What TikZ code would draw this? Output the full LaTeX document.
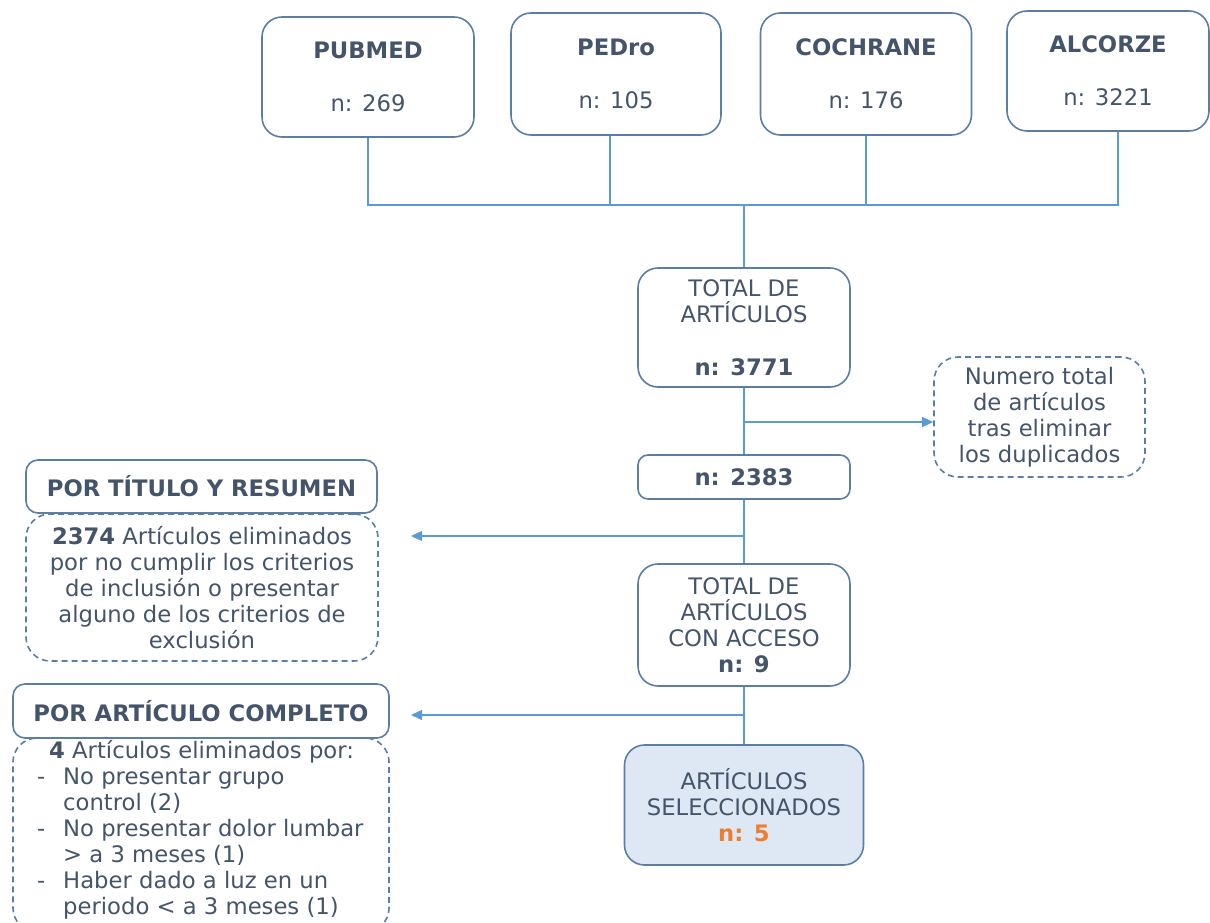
\documentclass[tikz,border=0pt]{standalone}
\usepackage{fontspec}
\setmainfont{DejaVu Sans}
\usetikzlibrary{arrows.meta}
\definecolor{boxc}{HTML}{5A7EA6}
\definecolor{linec}{HTML}{5B9BD5}
\definecolor{txtc}{HTML}{44546A}
\definecolor{orangec}{HTML}{ED7D31}
\definecolor{fillc}{HTML}{DDE8F4}
\tikzset{
  box/.style={draw=boxc, line width=1.6pt, rounded corners=20pt, align=center, text=txtc, inner sep=0pt},
  dbox/.style={box, dash pattern=on 6pt off 4pt, rounded corners=24pt},
  conn/.style={draw=linec, line width=1.3pt},
  arr/.style={conn, -{Triangle[length=11pt,width=10pt]}},
}
\begin{document}
\begin{tikzpicture}[x=1pt,y=-1pt,font=\fontsize{22.7}{26}\selectfont]
\useasboundingbox (0,0) rectangle (1210,923);
% sources
\node[box, minimum width=212pt, minimum height=120pt] (pub) at (368,77) {\textbf{PUBMED}\\[27pt]n: 269};
\node[box, minimum width=210pt, minimum height=122pt] (ped) at (616,74) {\textbf{PEDro}\\[27pt]n: 105};
\node[box, minimum width=211pt, minimum height=122pt] (coc) at (866,74) {\textbf{COCHRANE}\\[27pt]n: 176};
\node[box, minimum width=202pt, minimum height=120pt] (alc) at (1108,71) {\textbf{ALCORZE}\\[27pt]n: 3221};
% central column
\node[box, minimum width=212pt, minimum height=119pt] (tot) at (744,327.5) {TOTAL DE\\ART\'ICULOS\\[27pt]\textbf{n: 3771}};
\node[box, rounded corners=10pt, minimum width=212pt, minimum height=44pt] (n2383) at (744,477) {\textbf{n: 2383}};
\node[box, minimum width=212pt, minimum height=122pt] (acc) at (744,625) {TOTAL DE\\ART\'ICULOS\\CON ACCESO\\\textbf{n: 9}};
\node[box, fill=fillc, minimum width=239pt, minimum height=120pt] (sel) at (744,805) {ART\'ICULOS\\SELECCIONADOS\\\textcolor{orangec}{\textbf{n: 5}}};
% side boxes
\node[dbox, minimum width=211pt, minimum height=120pt] (num) at (1039.5,417) {Numero total\\de art\'iculos\\tras eliminar\\los duplicados};
\node[box, rounded corners=12pt, minimum width=351pt, minimum height=53pt] (ptr) at (201.5,486.5) {\textbf{POR T\'ITULO Y RESUMEN}};
\node[dbox, minimum width=352pt, minimum height=147pt] (ptrd) at (202,587.5) {\textbf{2374} Art\'iculos eliminados\\por no cumplir los criterios\\de inclusi\'on o presentar\\alguno de los criterios de\\exclusi\'on};
\node[box, rounded corners=12pt, minimum width=376pt, minimum height=54pt] (pac) at (201,711) {\textbf{POR ART\'ICULO COMPLETO}};
\node[dbox, minimum width=376pt, minimum height=194pt] (pacd) at (201,835) {};
\node[align=left, text=txtc, anchor=north west, inner sep=0pt] (pacdt) at (25,740) {\hspace*{24pt}\textbf{4} Art\'iculos eliminados por:\\
\makebox[38pt][l]{\hspace*{12pt}-}No presentar grupo\\
\hspace*{38pt}control (2)\\
\makebox[38pt][l]{\hspace*{12pt}-}No presentar dolor lumbar\\
\hspace*{38pt}> a 3 meses (1)\\
\makebox[38pt][l]{\hspace*{12pt}-}Haber dado a luz en un\\
\hspace*{38pt}periodo < a 3 meses (1)};
% connectors
\coordinate (bus) at (744,205);
\coordinate (b1) at (744,422);
\coordinate (b2) at (744,536);
\coordinate (e2) at (411,536);
\coordinate (b3) at (744,715);
\coordinate (e3) at (411,715);
\draw[conn] (pub.south) |- ([xshift=10pt]alc.south |- bus) -- ([xshift=10pt]alc.south);
\draw[conn] ([xshift=-6pt]ped.south) -- ([xshift=-6pt]ped.south |- bus);
\draw[conn] (coc.south) -- (coc.south |- bus);
\draw[conn] (bus) -- (tot.north);
\draw[conn] (tot.south) -- (n2383.north);
\draw[arr] (b1) -- (num.west |- b1);
\draw[conn] (n2383.south) -- (acc.north);
\draw[arr] (b2) -- (e2);
\draw[conn] (acc.south) -- (sel.north);
\draw[arr] (b3) -- (e3);
\end{tikzpicture}
\end{document}
